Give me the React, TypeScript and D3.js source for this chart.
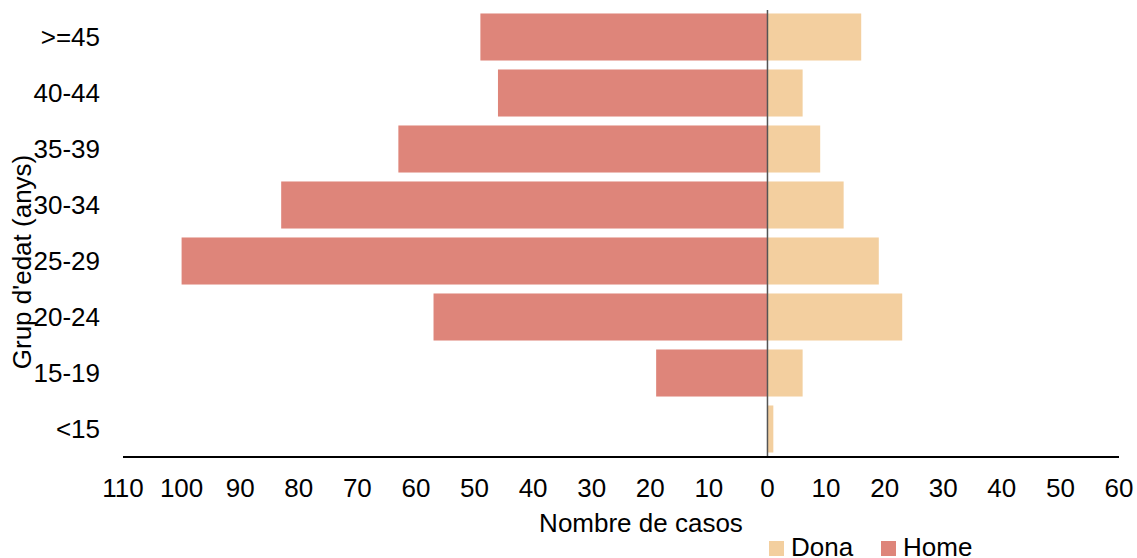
import React from "react";
import * as d3 from "d3";

const ageGroups = [">=45", "40-44", "35-39", "30-34", "25-29", "20-24", "15-19", "<15"];
const homeValues = [49, 46, 63, 83, 100, 57, 19, 0];
const donaValues = [16, 6, 9, 13, 19, 23, 6, 1];
const xTickValues = [-110, -100, -90, -80, -70, -60, -50, -40, -30, -20, -10, 0, 10, 20, 30, 40, 50, 60];
const seriesNames = ["Dona", "Home"];
const seriesColors = ["#f3cf9f", "#de857a"];

const W = 1137;
const H = 558;
const FONT = "'Liberation Sans', Arial, sans-serif";
const FS = 26;

export default function App() {
  const x = d3.scaleLinear().domain([-110, 60]).range([123, 1119]);
  const y = d3
    .scaleBand<string>()
    .domain(ageGroups)
    .range([9, 457])
    .paddingInner(0.16)
    .paddingOuter(0.08);
  const bw = y.bandwidth();
  const x0 = x(0);

  return (
    <svg
      width={W}
      height={H}
      style={{ position: "absolute", left: 0, top: 0, background: "#fff" }}
      fontFamily={FONT}
    >
      {ageGroups.map((g, i) => (
        <g key={g}>
          {homeValues[i] > 0 && (
            <rect
              x={x(-homeValues[i])}
              y={y(g)!}
              width={x0 - x(-homeValues[i])}
              height={bw}
              fill={seriesColors[1]}
            />
          )}
          {donaValues[i] > 0 && (
            <rect
              x={x0}
              y={y(g)!}
              width={x(donaValues[i]) - x0}
              height={bw}
              fill={seriesColors[0]}
            />
          )}
          <text
            x={100}
            y={y(g)! + bw / 2 + 9}
            textAnchor="end"
            fontSize={FS}
            fill="#000"
          >
            {g}
          </text>
        </g>
      ))}
      <line x1={x0} x2={x0} y1={10} y2={457} stroke="#555" strokeWidth={1.5} />
      <line x1={x(-110)} x2={x(60)} y1={457} y2={457} stroke="#000" strokeWidth={2} />
      {xTickValues.map((v) => (
        <text
          key={v}
          x={x(v)}
          y={497}
          textAnchor="middle"
          fontSize={FS}
          fill="#000"
        >
          {Math.abs(v)}
        </text>
      ))}
      <text x={641} y={532} textAnchor="middle" fontSize={FS} fill="#000">
        Nombre de casos
      </text>
      <text
        transform={`translate(31, 262) rotate(-90)`}
        textAnchor="middle"
        fontSize={FS}
        fill="#000"
      >
        Grup d'edat (anys)
      </text>
      {seriesNames.map((s, i) => {
        const lx = 769 + i * 112;
        return (
          <g key={s}>
            <rect x={lx} y={541} width={15} height={15} fill={seriesColors[i]} />
            <text x={lx + 22} y={556} fontSize={FS} fill="#000">
              {s}
            </text>
          </g>
        );
      })}
    </svg>
  );
}
